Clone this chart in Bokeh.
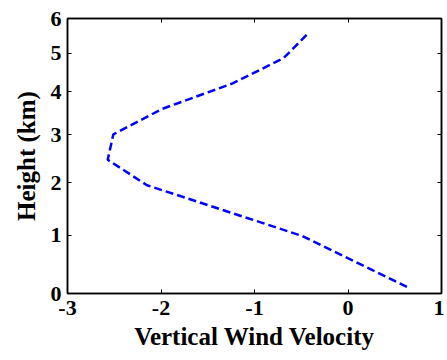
import numpy as np
from bokeh.plotting import figure
from bokeh.models import (Range1d, FixedTicker, LinearAxis, CustomJSTickFormatter)
from bokeh.embed import file_html
from bokeh.resources import INLINE

# Data: vertical wind velocity on pressure levels (hPa)
pressure_levels = [1000, 900, 800, 750, 700, 650, 600, 550, 500]
vertical_wind = [0.63, -0.49, -2.15, -2.57, -2.51, -1.99, -1.24, -0.69, -0.42]

# Axis tick labels (height in km) and x ticks
height_ticks_km = [0, 1, 2, 3, 4, 5, 6]
x_ticks = [-3, -2, -1, 0, 1]

P0, A, EXP = 1013.25, 2.25577e-5, 5.25588

def height_to_p(z_km):
    return P0 * (1 - A * np.asarray(z_km, dtype=float) * 1000.0) ** EXP

tick_p = [float(v) for v in height_to_p(height_ticks_km)]

FONT = "Liberation Serif"

p = figure(width=444, height=352, output_backend="svg", toolbar_location=None,
           x_range=Range1d(-3, 1), y_range=Range1d(tick_p[0], tick_p[-1]),
           min_border_left=67, min_border_right=3, min_border_top=18, min_border_bottom=57)

p.line(vertical_wind, pressure_levels, line_color="#0000FF", line_width=2.5, line_dash="8 4")

p.grid.visible = False
p.outline_line_color = "black"
p.outline_line_width = 1.5
p.background_fill_color = "white"
p.border_fill_color = "white"

yfmt = CustomJSTickFormatter(code="""
const z = (1 - Math.pow(tick/1013.25, 1/5.25588))/2.25577e-5/1000;
return Math.round(z).toString();
""")
xfmt = CustomJSTickFormatter(code="return Math.round(tick).toString();")
blank = CustomJSTickFormatter(code="return '';")

xax = p.xaxis[0]
xax.ticker = FixedTicker(ticks=x_ticks)
xax.formatter = xfmt
xax.axis_label = "Vertical Wind Velocity"
yax = p.yaxis[0]
yax.ticker = FixedTicker(ticks=tick_p)
yax.formatter = yfmt
yax.axis_label = "Height (km)"

for ax in (xax, yax):
    ax.major_tick_in = 4
    ax.major_tick_out = 0
    ax.minor_tick_line_color = None
    ax.axis_line_width = 1.5
    ax.major_tick_line_width = 1
    ax.major_label_text_font = FONT
    ax.major_label_text_font_style = "bold"
    ax.major_label_text_font_size = "22px"
    ax.major_label_text_color = "black"
    ax.axis_label_text_font = FONT
    ax.axis_label_text_font_style = "bold"
    ax.axis_label_text_font_size = "25px"
    ax.axis_label_text_color = "black"

xax.major_label_standoff = 7
xax.axis_label_standoff = 5
yax.major_label_standoff = 6
yax.axis_label_standoff = 8

top = LinearAxis(ticker=FixedTicker(ticks=x_ticks), formatter=blank,
                 major_label_standoff=0, major_tick_in=4, major_tick_out=0,
                 minor_tick_line_color=None, axis_line_width=1.5)
right = LinearAxis(ticker=FixedTicker(ticks=tick_p), formatter=blank,
                   major_label_standoff=0, major_tick_in=4, major_tick_out=0,
                   minor_tick_line_color=None, axis_line_width=1.5)
p.add_layout(top, "above")
p.add_layout(right, "right")

open("out.html", "w").write(file_html(p, INLINE))
